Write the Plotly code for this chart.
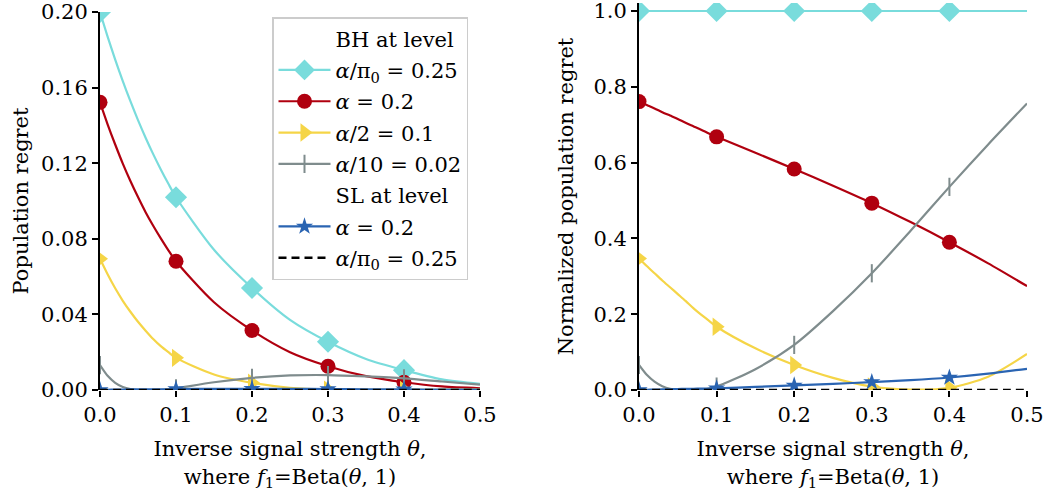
import plotly.graph_objects as go

# ---------------- data ----------------
theta = [0.0, 0.01, 0.02, 0.03, 0.04, 0.05, 0.06, 0.07, 0.08, 0.09, 0.10,
         0.15, 0.20, 0.25, 0.30, 0.35, 0.40, 0.45, 0.50]
marker_thetas = [0.0, 0.1, 0.2, 0.3, 0.4]

# Left panel: population regret
bh_alpha_pi0 = [0.2000, 0.1870, 0.1748, 0.1634, 0.1528, 0.1428, 0.1335, 0.1248, 0.1167, 0.1091, 0.1020,
                0.0742, 0.0540, 0.0371, 0.0255, 0.0164, 0.0105, 0.0056, 0.0032]
bh_alpha = [0.1522, 0.1406, 0.1299, 0.1198, 0.1106, 0.1021, 0.0941, 0.0869, 0.0802, 0.0739, 0.0681,
            0.0464, 0.0315, 0.0200, 0.0126, 0.0073, 0.0041, 0.0019, 0.0009]
bh_alpha_2 = [0.0694, 0.0612, 0.0538, 0.0472, 0.0414, 0.0361, 0.0314, 0.0270, 0.0232, 0.0200, 0.0170,
              0.0082, 0.0038, 0.0012, 0.0002, 0.00002, 0.00006, 0.0002, 0.0003]
bh_alpha_10 = [0.0132, 0.0075, 0.0038, 0.0016, 0.0005, 0.0, 0.0, 0.0, 0.0001, 0.0004, 0.0009,
               0.0041, 0.0064, 0.0077, 0.0079, 0.0072, 0.0062, 0.0045, 0.0028]
sl_alpha = [0.0, 0.0001, 0.0002, 0.0002, 0.0003, 0.0003, 0.0003, 0.0004, 0.0004, 0.0004, 0.0005,
            0.0006, 0.0006, 0.0006, 0.0005, 0.0004, 0.0003, 0.0002, 0.0002]
sl_alpha_pi0 = [0.0] * 19

# Right panel: normalized population regret
n_bh_alpha_pi0 = [1.0] * 19
n_bh_alpha = [0.761, 0.752, 0.743, 0.733, 0.724, 0.715, 0.705, 0.696, 0.687, 0.677, 0.668,
              0.626, 0.583, 0.539, 0.493, 0.443, 0.390, 0.334, 0.274]
n_bh_alpha_2 = [0.347, 0.327, 0.308, 0.289, 0.271, 0.253, 0.235, 0.216, 0.199, 0.183, 0.167,
                0.110, 0.066, 0.032, 0.009, 0.001, 0.006, 0.035, 0.095]
n_bh_alpha_10 = [0.066, 0.040, 0.022, 0.010, 0.003, 0.0005, 0.0, 0.0, 0.001, 0.004, 0.009,
                 0.055, 0.119, 0.208, 0.308, 0.420, 0.536, 0.648, 0.756]
n_sl_alpha = [0.0, 0.0005, 0.001, 0.0015, 0.002, 0.0025, 0.003, 0.0033, 0.0037, 0.004, 0.0045,
              0.008, 0.012, 0.016, 0.021, 0.026, 0.033, 0.043, 0.056]
n_sl_alpha_pi0 = [0.0] * 19

x_ticks = [0.0, 0.1, 0.2, 0.3, 0.4, 0.5]
x_ticklabels = ["0.0", "0.1", "0.2", "0.3", "0.4", "0.5"]
left_yticks = [0.0, 0.04, 0.08, 0.12, 0.16, 0.20]
left_yticklabels = ["0.00", "0.04", "0.08", "0.12", "0.16", "0.20"]
right_yticks = [0.0, 0.2, 0.4, 0.6, 0.8, 1.0]
right_yticklabels = ["0.0", "0.2", "0.4", "0.6", "0.8", "1.0"]

legend_labels = [
    "BH at level",
    "<i>α</i>/π<sub>0</sub> = 0.25",
    "<i>α</i> = 0.2",
    "<i>α</i>/2 = 0.1",
    "<i>α</i>/10 = 0.02",
    "SL at level",
    "<i>α</i> = 0.2",
    "<i>α</i>/π<sub>0</sub> = 0.25",
]

# ---------------- styles ----------------
CYAN = "#79dcdc"
RED = "#b0000f"
YELLOW = "#f5d547"
GRAY = "#7f8c8d"
BLUE = "#2a64b2"
BLACK = "#000000"
FONT = "DejaVu Serif"
FS = 21

series_styles = [
    dict(color=CYAN, symbol="diamond", size=17, dash="solid"),
    dict(color=RED, symbol="circle", size=15, dash="solid"),
    dict(color=YELLOW, symbol="triangle-right", size=16, dash="solid"),
    dict(color=GRAY, symbol="line-ns", size=13, dash="solid"),
    dict(color=BLUE, symbol="star", size=13, dash="solid"),
    dict(color=BLACK, symbol=None, size=0, dash="8px,5px"),
]

left_series = [bh_alpha_pi0, bh_alpha, bh_alpha_2, bh_alpha_10, sl_alpha, sl_alpha_pi0]
right_series = [n_bh_alpha_pi0, n_bh_alpha, n_bh_alpha_2, n_bh_alpha_10, n_sl_alpha, n_sl_alpha_pi0]

fig = go.Figure()


def marker_style(st):
    if st["symbol"] == "line-ns":
        return dict(symbol="line-ns", size=st["size"], color=st["color"],
                    line=dict(color=st["color"], width=2))
    return dict(symbol=st["symbol"], size=st["size"], color=st["color"],
                line=dict(width=0))


for series, xa, ya in [(left_series, "x", "y"), (right_series, "x2", "y2")]:
    for vals, st in zip(series, series_styles):
        fig.add_trace(go.Scatter(
            x=theta, y=vals, mode="lines", xaxis=xa, yaxis=ya,
            line=dict(color=st["color"], width=2.2 if st["dash"] == "solid" else 2.4,
                      dash=st["dash"], shape="spline", smoothing=0.8),
            showlegend=False, hoverinfo="skip"))
        if st["symbol"]:
            mx = [t for t in theta if t in marker_thetas]
            my = [v for t, v in zip(theta, vals) if t in marker_thetas]
            fig.add_trace(go.Scatter(
                x=mx, y=my, mode="markers", xaxis=xa, yaxis=ya,
                marker=marker_style(st), showlegend=False, hoverinfo="skip"))

# legend entries
legend_styles = [None, series_styles[0], series_styles[1], series_styles[2], series_styles[3],
                 None, series_styles[4], series_styles[5]]
for i, (lab, st) in enumerate(zip(legend_labels, legend_styles)):
    if st is None:
        fig.add_trace(go.Scatter(x=[None], y=[None], mode="lines", name=lab,
                                 line=dict(width=0, color="rgba(0,0,0,0)"),
                                 legendgroup=f"g{i}", legendrank=i + 1))
    elif st["symbol"] is None:
        fig.add_trace(go.Scatter(x=[None], y=[None], mode="lines", name=lab,
                                 line=dict(color=st["color"], width=2.4, dash=st["dash"]),
                                 legendgroup=f"g{i}", legendrank=i + 1))
    else:
        fig.add_trace(go.Scatter(x=[None], y=[None], mode="lines+markers", name=lab,
                                 line=dict(color=st["color"], width=2.2),
                                 marker=marker_style(st),
                                 legendgroup=f"g{i}", legendrank=i + 1))

W, H = 1045, 493
y0_px = 390
left_top_px = 12
right_top_px = 3
right_ymax = 1.0 + (11 - right_top_px) / (390 - 11)

axis_common = dict(showgrid=False, zeroline=False, ticks="outside", ticklen=6, tickwidth=1.5,
                   tickcolor="black", automargin=False, ticklabeloverflow="allow",
                   tickfont=dict(family=FONT, size=FS, color="black"))

xtitle = "Inverse signal strength <i>θ</i>,<br>where <i>f</i><sub>1</sub>=Beta(<i>θ</i>, 1)"

fig.update_layout(
    width=W, height=H,
    margin=dict(l=0, r=0, t=0, b=0, autoexpand=False),
    paper_bgcolor="white", plot_bgcolor="white",
    font=dict(family=FONT, size=FS, color="black"),
    xaxis=dict(domain=[100 / W, 480 / W], range=[0, 0.5],
               tickvals=x_ticks, ticktext=x_ticklabels,
               showline=False, anchor="y",
               title=dict(text=xtitle, font=dict(family=FONT, size=FS), standoff=15),
               **axis_common),
    yaxis=dict(domain=[1 - y0_px / H, 1 - left_top_px / H], range=[0, 0.2],
               tickvals=left_yticks, ticktext=left_yticklabels,
               showline=True, linecolor="black", linewidth=2, anchor="x",
               title=dict(text="Population regret", font=dict(family=FONT, size=FS), standoff=7),
               **axis_common),
    xaxis2=dict(domain=[639 / W, 1027 / W], range=[0, 0.5],
                tickvals=x_ticks, ticktext=x_ticklabels,
                showline=False, anchor="y2",
                title=dict(text=xtitle, font=dict(family=FONT, size=FS), standoff=15),
                **axis_common),
    yaxis2=dict(domain=[1 - y0_px / H, 1 - right_top_px / H], range=[0, right_ymax],
                tickvals=right_yticks, ticktext=right_yticklabels,
                showline=True, linecolor="black", linewidth=2, anchor="x2",
                title=dict(text="Normalized population regret", font=dict(family=FONT, size=FS), standoff=14),
                **axis_common),
    legend=dict(x=272 / W, y=1 - 17 / H, xanchor="left", yanchor="top",
                bgcolor="rgba(255,255,255,0.85)", bordercolor="#cccccc", borderwidth=1.5,
                font=dict(family=FONT, size=FS, color="black"),
                itemwidth=52, tracegroupgap=1),
)

fig.write_html("out.html", config={"displayModeBar": False},
               post_script="document.body.style.margin='0px';")
